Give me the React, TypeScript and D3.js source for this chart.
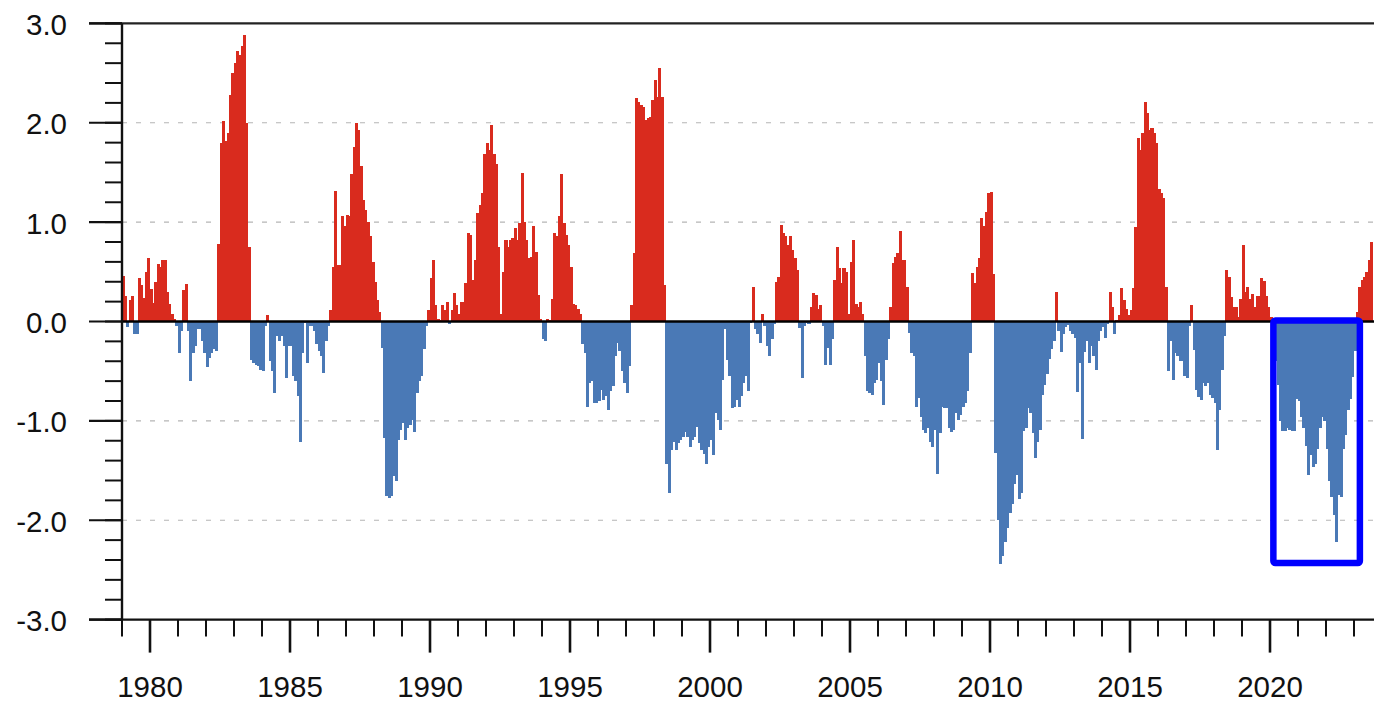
import React from "react";
import * as d3 from "d3";

// Monthly index values, Jan 1979 onward (one row per year)
const startYear = 1979;
const monthlyIndex: number[] = [
  // 1979
  0.46, 0.26, -0.06, 0.22, 0.26, -0.13, -0.13, 0.44, 0.37, 0.24, 0.5, 0.64,
  // 1980
  0.33, 0.19, 0.4, 0.58, 0.55, 0.62, 0.62, 0.3, 0.18, 0.08, 0.03, -0.05,
  // 1981
  -0.32, -0.1, 0.32, 0.38, -0.1, -0.6, -0.32, -0.25, -0.08, -0.08, -0.2, -0.32,
  // 1982
  -0.46, -0.37, -0.32, -0.28, -0.3, 0.78, 1.8, 2.02, 1.82, 1.9, 2.28, 2.5,
  // 1983
  2.6, 2.72, 2.68, 2.77, 2.88, 2.0, 0.75, -0.39, -0.42, -0.44, -0.45, -0.49,
  // 1984
  -0.5, -0.05, 0.07, -0.4, -0.5, -0.72, -0.15, -0.2, -0.15, -0.25, -0.57, -0.25,
  // 1985
  -0.25, -0.55, -0.6, -0.75, -1.21, -0.32, -0.02, -0.42, -0.05, -0.05, -0.1, -0.23,
  // 1986
  -0.3, -0.35, -0.52, -0.2, -0.05, 0.12, 0.55, 1.31, 0.57, 0.57, 1.06, 0.96,
  // 1987
  1.07, 1.06, 1.48, 1.76, 2.0, 1.93, 1.56, 1.22, 1.12, 1.0, 0.86, 0.6,
  // 1988
  0.4, 0.22, 0.1, -0.27, -1.17, -1.76, -1.78, -1.76, -1.55, -1.61, -1.19, -1.09,
  // 1989
  -1.02, -1.19, -1.07, -1.04, -0.99, -1.11, -0.72, -0.6, -0.55, -0.28, -0.05, 0.12,
  // 1990
  0.44, 0.62, 0.17, 0.03, 0.02, 0.17, 0.12, 0.2, -0.03, 0.12, 0.29, 0.17,
  // 1991
  0.08, 0.2, 0.2, 0.39, 0.89, 0.87, 0.42, 0.62, 1.09, 1.17, 1.29, 1.69,
  // 1992
  1.8, 1.73, 1.98, 1.69, 1.59, 0.75, 0.08, 0.5, 0.82, 0.75, 0.82, 0.84,
  // 1993
  0.94, 0.82, 0.99, 1.49, 1.0, 0.82, 0.64, 0.65, 0.96, 0.7, 0.27, 0.03,
  // 1994
  -0.18, -0.2, 0.03, 0.02, 0.23, 0.89, 0.86, 1.06, 1.48, 0.99, 0.87, 0.77,
  // 1995
  0.55, 0.18, 0.17, 0.13, 0.08, -0.23, -0.32, -0.86, -0.62, -0.6, -0.82, -0.82,
  // 1996
  -0.8, -0.69, -0.79, -0.75, -0.89, -0.7, -0.65, -0.35, -0.22, -0.3, -0.5, -0.62,
  // 1997
  -0.72, -0.45, 0.17, 0.69, 2.25, 2.21, 2.18, 2.16, 2.03, 2.05, 2.06, 2.23,
  // 1998
  2.43, 2.26, 2.55, 2.26, 0.37, -1.43, -1.73, -1.29, -1.21, -1.29, -1.22, -1.19,
  // 1999
  -1.16, -1.11, -1.16, -1.26, -1.19, -1.16, -1.06, -1.22, -1.29, -1.33, -1.43, -1.26,
  // 2000
  -1.19, -1.34, -0.92, -0.99, -1.09, -0.59, -0.08, -0.39, -0.55, -0.87, -0.86, -0.79,
  // 2001
  -0.86, -0.75, -0.62, -0.55, -0.7, -0.02, 0.35, -0.08, -0.13, -0.22, 0.08, -0.05,
  // 2002
  -0.25, -0.35, -0.18, -0.03, 0.4, 0.45, 0.97, 0.89, 0.86, 0.77, 0.86, 0.72,
  // 2003
  0.64, 0.52, -0.07, -0.57, -0.05, -0.02, -0.03, 0.15, 0.29, 0.27, 0.13, 0.17,
  // 2004
  -0.05, -0.44, -0.27, -0.44, -0.18, 0.42, 0.75, 0.54, 0.39, 0.54, 0.5, 0.08,
  // 2005
  0.6, 0.82, 0.18, 0.15, 0.2, 0.08, -0.35, -0.7, -0.72, -0.74, -0.62, -0.59,
  // 2006
  -0.42, -0.6, -0.84, -0.39, -0.18, 0.15, 0.59, 0.65, 0.69, 0.91, 0.62, 0.62,
  // 2007
  0.35, -0.12, -0.32, -0.35, -0.86, -0.77, -0.96, -1.09, -1.12, -1.07, -1.21, -1.26,
  // 2008
  -1.09, -1.53, -1.12, -0.86, -0.87, -0.87, -1.07, -1.11, -1.09, -0.92, -0.99, -0.94,
  // 2009
  -0.86, -0.82, -0.7, -0.32, 0.49, 0.39, 0.55, 0.64, 1.04, 0.96, 1.1, 1.29,
  // 2010
  1.3, 0.48, -1.32, -2.0, -2.44, -2.36, -2.22, -2.08, -1.93, -1.84, -1.64, -1.54,
  // 2011
  -1.79, -1.73, -1.1, -1.07, -0.87, -0.92, -1.12, -1.37, -1.21, -1.09, -0.74, -0.64,
  // 2012
  -0.53, -0.38, -0.28, -0.2, 0.3, -0.1, -0.31, -0.13, -0.06, -0.04, -0.1, -0.13,
  // 2013
  -0.17, -0.71, -0.42, -1.18, -0.31, -0.2, -0.42, -0.25, -0.35, -0.49, -0.2, -0.1,
  // 2014
  -0.06, -0.17, -0.03, 0.3, 0.15, -0.13, 0.02, 0.07, 0.34, 0.22, 0.13, 0.07,
  // 2015
  0.12, 0.34, 0.95, 1.85, 1.73, 1.9, 2.21, 2.1, 1.93, 1.95, 1.9, 1.8,
  // 2016
  1.33, 1.29, 1.24, 0.35, -0.5, -0.2, -0.59, -0.32, -0.35, -0.4, -0.4, -0.55,
  // 2017
  -0.57, -0.05, 0.17, -0.29, -0.69, -0.76, -0.79, -0.62, -0.65, -0.62, -0.74, -0.77,
  // 2018
  -0.82, -1.29, -0.89, -0.49, -0.15, 0.52, 0.45, 0.25, 0.15, 0.15, 0.05, 0.23,
  // 2019
  0.77, 0.3, 0.35, 0.23, 0.28, 0.15, 0.26, 0.26, 0.44, 0.41, 0.26, 0.15,
  // 2020
  0.05, -0.2, -0.4, -0.64, -1.0, -1.1, -1.1, -1.07, -1.09, -1.1, -1.1, -0.78,
  // 2021
  -0.8, -0.96, -1.07, -1.25, -1.54, -1.34, -1.46, -1.43, -1.28, -1.07, -0.96, -1.0,
  // 2022
  -1.28, -1.61, -1.77, -1.95, -2.22, -1.75, -1.77, -1.28, -1.14, -0.89, -0.78, -0.56,
  // 2023
  -0.3, 0.1, 0.35, 0.42, 0.45, 0.5, 0.62, 0.8,
];

const yMajorTicks = [-3, -2, -1, 0, 1, 2, 3];
const gridValues = [-2, -1, 1, 2];
const xLabelYears = [1980, 1985, 1990, 1995, 2000, 2005, 2010, 2015, 2020];
const xTickYears = d3.range(1979, 2024);

// highlighted period (blue frame), in data units
const highlightStart = 2020.12;
const highlightEnd = 2023.21;
const highlightTop = 0.01;
const highlightBottom = -2.43;

const W = 1374;
const H = 702;
const RED = "#d92b1e";
const BLUE = "#4a79b6";
const FONT = "'Liberation Sans', Arial, Helvetica, sans-serif";

export default function App() {
  const x = d3.scaleLinear().domain([1979, 2024]).range([122, 1382]);
  const y = d3.scaleLinear().domain([-3, 3]).range([619.6, 23.4]);
  const x0 = x(1979);
  const minorY = d3.range(-3, 3.0001, 0.2).map((v) => Math.round(v * 10) / 10);
  const fmt = (v: number) => (Math.abs(v) < 1e-9 ? "0.0" : v.toFixed(1));

  return (
    <div style={{ position: "fixed", left: 0, top: 0 }}>
      <svg width={W} height={H} style={{ display: "block", background: "#fff" }}>
        {/* grid */}
        {gridValues.map((g) => (
          <line
            key={"g" + g}
            x1={x0}
            x2={W}
            y1={y(g)}
            y2={y(g)}
            stroke="#b5b5b5"
            strokeWidth={1.2}
            strokeDasharray="5 9"
          />
        ))}
        {/* bars */}
        <g shapeRendering="crispEdges">
          {monthlyIndex.map((v, i) => {
            const t = startYear + i / 12;
            const bx = Math.floor(x(t));
            const bx2 = Math.ceil(x(t + 1 / 12));
            const top = v >= 0 ? y(v) : y(0);
            const h = Math.abs(y(v) - y(0));
            return (
              <rect
                key={"b" + i}
                x={bx}
                y={top}
                width={bx2 - bx}
                height={h}
                fill={v >= 0 ? RED : BLUE}
              />
            );
          })}
        </g>
        {/* zero line */}
        <line x1={x0} x2={W} y1={y(0)} y2={y(0)} stroke="#000" strokeWidth={2.4} />
        {/* frame */}
        <line x1={89} x2={W} y1={y(3)} y2={y(3)} stroke="#222" strokeWidth={2.2} />
        <line x1={89} x2={W} y1={y(-3)} y2={y(-3)} stroke="#111" strokeWidth={2.4} />
        <line x1={x0} x2={x0} y1={y(3)} y2={y(-3)} stroke="#111" strokeWidth={2.4} />
        {/* y ticks */}
        {minorY.map((v) => (
          <line
            key={"ym" + v}
            x1={x0 - 17}
            x2={x0}
            y1={y(v)}
            y2={y(v)}
            stroke="#111"
            strokeWidth={2}
          />
        ))}
        {yMajorTicks.map((v) => (
          <line
            key={"yM" + v}
            x1={89}
            x2={x0}
            y1={y(v)}
            y2={y(v)}
            stroke="#111"
            strokeWidth={2.2}
          />
        ))}
        {yMajorTicks.map((v) => (
          <text
            key={"yl" + v}
            x={67}
            y={y(v) + 11.5}
            textAnchor="end"
            fontFamily={FONT}
            fontSize={29.5}
            fill="#111"
          >
            {fmt(v)}
          </text>
        ))}
        {/* x ticks */}
        {xTickYears.map((yr) => {
          const major = yr % 5 === 0;
          return (
            <line
              key={"xt" + yr}
              x1={x(yr)}
              x2={x(yr)}
              y1={y(-3)}
              y2={y(-3) + (major ? 33 : 17)}
              stroke="#111"
              strokeWidth={major ? 2.6 : 2}
            />
          );
        })}
        {xLabelYears.map((yr) => (
          <text
            key={"xl" + yr}
            x={x(yr)}
            y={697}
            textAnchor="middle"
            fontFamily={FONT}
            fontSize={29.5}
            fill="#111"
          >
            {yr}
          </text>
        ))}
        {/* highlight frame */}
        <rect
          x={x(highlightStart)}
          y={y(highlightTop)}
          width={x(highlightEnd) - x(highlightStart)}
          height={y(highlightBottom) - y(highlightTop)}
          fill="none"
          stroke="#0000ff"
          strokeWidth={6.5}
          rx={2}
        />
      </svg>
    </div>
  );
}
